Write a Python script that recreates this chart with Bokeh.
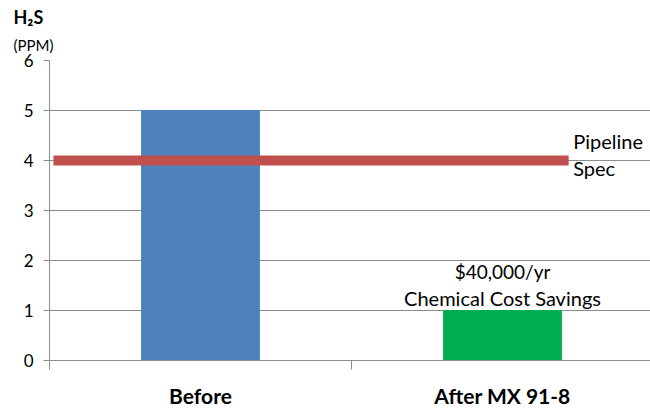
from bokeh.plotting import figure
from bokeh.models import Range1d, FixedTicker, Label, ColumnDataSource, Title
from bokeh.embed import file_html
from bokeh.resources import INLINE

# ---- data ----
categories = ["Before", "After MX 91-8"]
h2s_ppm = [5, 1]
bar_colors = ["#4f81bd", "#00b050"]
pipeline_spec = 4
y_ticks = [0, 1, 2, 3, 4, 5, 6]
savings_lines = ["$40,000/yr", "Chemical Cost Savings"]
spec_lines = ["Pipeline", "Spec"]
y_title = "H\u2082S"
y_unit = "(PPM)"

FONT = "Lato"
GRAY = "#8c8c8c"

positions = [i + 0.5 for i in range(len(categories))]

p = figure(width=650, height=410, output_backend="svg", toolbar_location=None,
           x_range=Range1d(0, 1.99), y_range=Range1d(0, 6),
           min_border_left=49, min_border_right=0, min_border_top=60,
           min_border_bottom=50)
p.outline_line_color = None
p.background_fill_color = "white"
p.xgrid.visible = False

src = ColumnDataSource(dict(x=positions, top=h2s_ppm, color=bar_colors, cat=categories))
p.vbar(x="x", top="top", width=0.39, bottom=0, color="color", source=src)

# pipeline spec line
p.line(x=[0.013, 1.719], y=[pipeline_spec, pipeline_spec], line_color="#c0504d",
       line_width=10)

# y axis
yax = p.yaxis[0]
yax.ticker = FixedTicker(ticks=y_ticks, minor_ticks=[])
yax.axis_line_color = GRAY
yax.major_tick_line_color = GRAY
yax.major_tick_out = 6
yax.major_tick_in = 0
yax.major_label_text_font = FONT
yax.major_label_text_font_size = "17px"
yax.major_label_text_color = "black"
yax.major_label_standoff = 10

p.ygrid.ticker = FixedTicker(ticks=y_ticks[1:])
p.ygrid.grid_line_color = GRAY
p.ygrid.grid_line_width = 1

# x axis
xax = p.xaxis[0]
xax.ticker = FixedTicker(ticks=positions, minor_ticks=[0, 1, 2])
xax.major_label_overrides = {pos: c for pos, c in zip(positions, categories)}
xax.axis_line_color = GRAY
xax.major_tick_out = 0
xax.major_tick_in = 0
xax.minor_tick_out = 9
xax.minor_tick_in = 0
xax.minor_tick_line_color = GRAY
xax.major_label_text_font = FONT
xax.major_label_text_font_size = "21px"
xax.major_label_text_font_style = "bold"
xax.major_label_text_color = "black"
xax.major_label_standoff = 13

# y title (H2S / PPM) as stacked titles above the frame
p.add_layout(Title(text=y_unit, align="left", offset=-36, text_font=FONT,
                   text_font_size="15px", text_font_style="normal",
                   text_color="black", standoff=13), "above")
p.add_layout(Title(text=y_title, align="left", offset=-36, text_font=FONT,
                   text_font_size="18px", text_font_style="bold",
                   text_color="black", standoff=0), "above")

def lab(x, y, t, size, style="normal", align="left"):
    p.add_layout(Label(x=x, y=y, text=t, text_font=FONT, text_font_size=size,
                       text_font_style=style, text_align=align,
                       text_baseline="alphabetic", text_color="black"))

# annotations
lab(positions[1], 1.784, savings_lines[0], "19px", align="center")
lab(positions[1], 1.25, savings_lines[1], "20px", align="center")
lab(1.734, 4.384, spec_lines[0], "20px")
lab(1.734, 3.85, spec_lines[1], "20px")

open("out.html", "w").write(file_html(p, INLINE))
